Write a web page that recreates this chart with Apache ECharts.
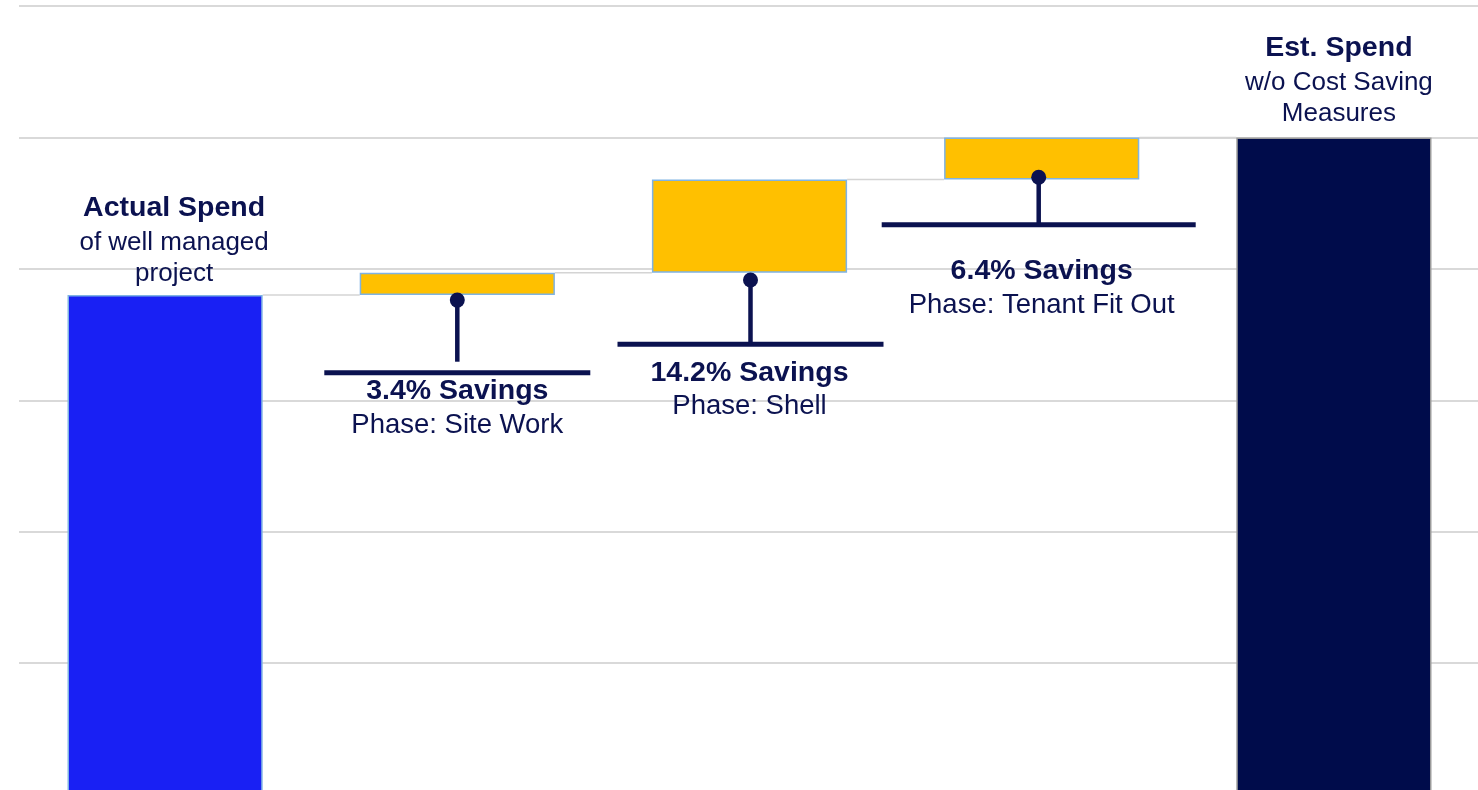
<!DOCTYPE html>
<html><head><meta charset="utf-8">
<script src="https://cdn.jsdelivr.net/npm/echarts@6/dist/echarts.min.js"></script>
<style>html,body{margin:0;padding:0;background:#fff}#c{width:1478px;height:790px}</style>
</head><body><div id="c"></div>
<script>
// ---- data ----
const categories = ['Actual Spend', 'Site Work', 'Shell', 'Tenant Fit Out', 'Est. Spend'];
const actualSpend = 76;
const savings = [3.4, 14.2, 6.4];
const estSpend = 100;
const yTicks = [0, 20, 40, 60, 80, 100, 120];
const totalTitles = ['Actual Spend', 'Est. Spend'];
const totalSubtitles = [['of well managed', 'project'], ['w/o Cost Saving', 'Measures']];
const savingsTitles = ['3.4% Savings', '14.2% Savings', '6.4% Savings'];
const phaseLabels = ['Phase: Site Work', 'Phase: Shell', 'Phase: Tenant Fit Out'];

// ---- derived waterfall ----
const bases = [0];
const heights = [actualSpend];
let level = actualSpend;
savings.forEach(s => { bases.push(level); heights.push(s); level += s; });
bases.push(0); heights.push(estSpend);
const levels = [actualSpend];
{ let l = actualSpend; savings.forEach(s => { l += s; levels.push(l); }); }

// ---- styles ----
const FONT = "Arial, 'Liberation Sans', sans-serif";
const NAVY = '#0B1250';
const BAR_FRAC = 0.668;
const calloutLayout = [
  { dx: 0,  dot: 5,    stem: 66.6, line: 77.6, half: 133, title: 95.6,  phase: 130.4 },
  { dx: 1,  dot: 7.2,  stem: 71.5, line: 71.5, half: 133, title: 100,   phase: 133.4 },
  { dx: -3, dot: -2.2, stem: 45.2, line: 45.2, half: 157, title: 91.2,  phase: 125.9 }
];

function totalLabel(i, dx, dist) {
  return {
    show: true, position: 'top', distance: dist, offset: [dx, 0],
    formatter: '{t|' + totalTitles[i] + '}\n' + totalSubtitles[i].map(s => '{s|' + s + '}').join('\n'),
    rich: {
      t: { fontFamily: FONT, fontSize: 28.5, fontWeight: 'bold', lineHeight: 38, color: NAVY, align: 'center' },
      s: { fontFamily: FONT, fontSize: 26, lineHeight: 31, color: NAVY, align: 'center' }
    }
  };
}

const valueData = heights.map((h, i) => {
  if (i === 0) return { value: h, itemStyle: { color: '#1920F4', borderColor: '#7FB3E3', borderWidth: 1.5 }, label: totalLabel(0, 9, 6) };
  if (i === heights.length - 1) return { value: h, itemStyle: { color: '#000C4B', borderColor: '#9A9A9A', borderWidth: 1.5 }, label: totalLabel(1, 5, 8) };
  return { value: h, itemStyle: { color: '#FFC000', borderColor: '#7FB3E3', borderWidth: 1.5 } };
});

const chart = echarts.init(document.getElementById('c'), null, { renderer: 'canvas' });
chart.setOption({
  animation: false,
  grid: { left: 19, right: -2, top: 6, bottom: -4.5, containLabel: false, outerBoundsMode: 'none' },
  xAxis: {
    type: 'category', data: categories,
    axisLine: { show: false }, axisTick: { show: false }, axisLabel: { show: false }, splitLine: { show: false }
  },
  yAxis: {
    type: 'value', min: yTicks[0], max: yTicks[yTicks.length - 1], interval: yTicks[1] - yTicks[0],
    axisLine: { show: false }, axisTick: { show: false }, axisLabel: { show: false },
    splitLine: { show: true, lineStyle: { color: '#D9D9D9', width: 2 } }
  },
  series: [
    {
      name: 'base', type: 'bar', stack: 'w', barWidth: (BAR_FRAC * 100) + '%', silent: true,
      itemStyle: { color: 'transparent' }, data: bases
    },
    {
      name: 'value', type: 'bar', stack: 'w', barWidth: (BAR_FRAC * 100) + '%', data: valueData, z: 3
    },
    {
      name: 'connectors', type: 'custom', silent: true, z: 2,
      data: levels.map((l, i) => [i, l]),
      encode: { x: 0, y: 1 },
      renderItem: function (params, api) {
        const p = api.coord([api.value(0), api.value(1)]);
        const cw = api.size([1, 0])[0];
        const bw = cw * BAR_FRAC;
        return {
          type: 'line',
          shape: { x1: p[0] + bw / 2, y1: p[1], x2: p[0] + cw - bw / 2, y2: p[1] },
          style: { stroke: '#D4D4D4', lineWidth: 1.5 }
        };
      }
    },
    {
      name: 'callouts', type: 'custom', silent: true, z: 5,
      data: savings.map((s, i) => [i + 1, bases[i + 1]]),
      encode: { x: 0, y: 1 },
      renderItem: function (params, api) {
        const k = params.dataIndex;
        const L = calloutLayout[k];
        const p = api.coord([api.value(0), api.value(1)]);
        const x = p[0] + L.dx, y = p[1];
        return {
          type: 'group',
          children: [
            { type: 'line', shape: { x1: x - L.half, y1: y + L.line, x2: x + L.half, y2: y + L.line },
              style: { stroke: NAVY, lineWidth: 5 } },
            { type: 'line', shape: { x1: x, y1: y + L.dot, x2: x, y2: y + L.stem },
              style: { stroke: NAVY, lineWidth: 4.5 } },
            { type: 'circle', shape: { cx: x, cy: y + L.dot, r: 7.5 }, style: { fill: NAVY } },
            { type: 'text', x: p[0], y: y + L.title,
              style: { text: savingsTitles[k], fill: NAVY, fontFamily: FONT, fontSize: 28.5, fontWeight: 'bold', align: 'center', verticalAlign: 'middle' } },
            { type: 'text', x: p[0], y: y + L.phase,
              style: { text: phaseLabels[k], fill: NAVY, fontFamily: FONT, fontSize: 27.5, align: 'center', verticalAlign: 'middle' } }
          ]
        };
      }
    }
  ]
});
</script>
</body></html>
